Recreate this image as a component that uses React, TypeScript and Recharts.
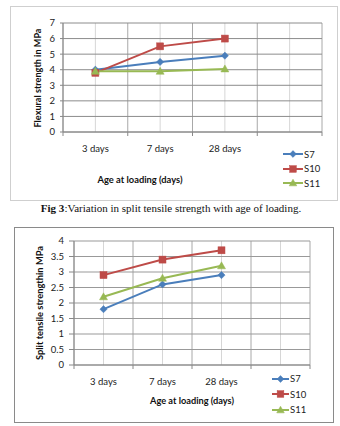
import React from 'react';
import { LineChart, Line, XAxis, YAxis, CartesianGrid, Legend, Label } from 'recharts';

// Categories on the age axis (the last slot is an empty category)
const ages = ['3 days', '7 days', '28 days', ''];
const seriesNames = ['S7', 'S10', 'S11'];

// Flexural strength (MPa)
const flexS7 = [4.0, 4.5, 4.9];
const flexS10 = [3.8, 5.5, 6.0];
const flexS11 = [3.9, 3.9, 4.05];
const flexTicks = [0, 1, 2, 3, 4, 5, 6, 7];

// Split tensile strength (MPa)
const splitS7 = [1.8, 2.6, 2.9];
const splitS10 = [2.9, 3.4, 3.7];
const splitS11 = [2.2, 2.8, 3.2];
const splitTicks = [0, 0.5, 1, 1.5, 2, 2.5, 3, 3.5, 4];

const COLORS: Record<string, string> = { S7: '#4A7EBB', S10: '#BE4B48', S11: '#98B954' };
const SHAPES: Record<string, string> = { S7: 'diamond', S10: 'square', S11: 'triangle' };
const FONT = 'Lato, "Liberation Sans", sans-serif';

function buildRows(s7: number[], s10: number[], s11: number[]) {
  return ages.map((age, i) => ({
    age,
    S7: s7[i] ?? null,
    S10: s10[i] ?? null,
    S11: s11[i] ?? null,
  }));
}

const flexRows = buildRows(flexS7, flexS10, flexS11);
const splitRows = buildRows(splitS7, splitS10, splitS11);

function markerShape(shape: string, cx: number, cy: number, color: string, s = 1) {
  if (shape === 'diamond') {
    const r = 3.6 * s;
    return <polygon points={`${cx},${cy - r} ${cx + r},${cy} ${cx},${cy + r} ${cx - r},${cy}`} fill={color} stroke={color} strokeWidth={0.5} />;
  }
  if (shape === 'square') {
    const h = 3.5 * s;
    return <rect x={cx - h} y={cy - h} width={2 * h} height={2 * h} fill={color} stroke={color} strokeWidth={0.5} />;
  }
  const r = 4 * s;
  return <polygon points={`${cx},${cy - r} ${cx + r},${cy + r * 0.75} ${cx - r},${cy + r * 0.75}`} fill={color} stroke={color} strokeWidth={0.5} />;
}

const makeDot = (name: string) => (props: any) => {
  const { cx, cy, index, value } = props;
  if (cx == null || cy == null || value == null) return <g key={`${name}-${index}`} />;
  return <g key={`${name}-${index}`}>{markerShape(SHAPES[name], cx, cy, COLORS[name])}</g>;
};

const makeTick = (band: number, labelDy: number) => (props: any) => {
  const { x, y, payload, index } = props;
  const isLast = index === ages.length - 1;
  return (
    <g>
      <line x1={x - band / 2} y1={y} x2={x - band / 2} y2={y + 4} stroke="#888" />
      {isLast && <line x1={x + band / 2} y1={y} x2={x + band / 2} y2={y + 4} stroke="#888" />}
      <text x={x} y={y + labelDy} textAnchor="middle" dominantBaseline="central" fontFamily={FONT} fontSize={9.5} fill="#222">
        {payload.value}
      </text>
    </g>
  );
};

const AxisTitle = ({ x, y, text, rotate, length }: { x: number; y: number; text: string; rotate?: boolean; length: number }) => (
  <text
    x={x}
    y={y}
    transform={rotate ? `rotate(-90 ${x} ${y})` : undefined}
    textAnchor="middle"
    dominantBaseline="central"
    fontFamily={FONT}
    fontWeight={700}
    fontSize={10}
    fill="#111"
    textLength={length}
    lengthAdjust="spacingAndGlyphs"
  >
    {text}
  </text>
);

const makeLegend = (rowGap: number, lineW: number) => () => (
  <div style={{ fontFamily: FONT, fontSize: 9.5, color: '#222' }}>
    {seriesNames.map((n) => (
      <div key={n} style={{ display: 'flex', alignItems: 'center', height: rowGap }}>
        <svg width={lineW} height={10} style={{ display: 'block' }}>
          <line x1={0} y1={5} x2={lineW} y2={5} stroke={COLORS[n]} strokeWidth={2} />
          {markerShape(SHAPES[n], lineW / 2, 5, COLORS[n], 0.95)}
        </svg>
        <span style={{ marginLeft: 1 }}>{n}</span>
      </div>
    ))}
  </div>
);

const centerLines = (n: number) => ({ offset }: any) =>
  Array.from({ length: n }, (_, i) => offset.left + ((i + 0.5) * offset.width) / n);
const boundaryLines = (n: number) => ({ offset }: any) =>
  Array.from({ length: n + 1 }, (_, i) => offset.left + (i * offset.width) / n);

interface PanelProps {
  rows: any[];
  width: number;
  height: number;
  margin: { top: number; right: number; bottom: number; left: number };
  yWidth: number;
  yTicks: number[];
  yMax: number;
  yTickSize: number;
  yTickMargin: number;
  plotWidth: number;
  labelDy: number;
  yTitle: { x: number; y: number; text: string; length: number };
  xTitle: { x: number; y: number; text: string; length: number };
  legend: { left: number; top: number; rowGap: number; lineW: number };
  hGrid: string;
}

function Panel(p: PanelProps) {
  return (
    <LineChart width={p.width} height={p.height} data={p.rows} margin={p.margin}>
      <CartesianGrid horizontal={false} stroke="#d6d6d6" verticalCoordinatesGenerator={centerLines(ages.length)} />
      <CartesianGrid horizontal={false} stroke="#a8a8a8" verticalCoordinatesGenerator={boundaryLines(ages.length)} />
      <CartesianGrid vertical={false} stroke={p.hGrid} />
      <XAxis
        dataKey="age"
        scale="band"
        height={20}
        interval={0}
        tickLine={false}
        tickSize={0}
        tickMargin={0}
        axisLine={{ stroke: '#888' }}
        tick={makeTick(p.plotWidth / ages.length, p.labelDy)}
      >
        <Label content={() => <AxisTitle {...p.xTitle} />} />
      </XAxis>
      <YAxis
        width={p.yWidth}
        domain={[0, p.yMax]}
        ticks={p.yTicks}
        interval={0}
        tickSize={p.yTickSize}
        tickMargin={p.yTickMargin}
        axisLine={{ stroke: '#888' }}
        tickLine={{ stroke: '#888' }}
        tick={{ fontFamily: FONT, fontSize: 9.5, fill: '#222' }}
      >
        <Label content={() => <AxisTitle {...p.yTitle} rotate />} />
      </YAxis>
      <Legend
        layout="horizontal"
        verticalAlign="middle"
        align="center"
        content={makeLegend(p.legend.rowGap, p.legend.lineW)}
        wrapperStyle={{ left: p.legend.left, top: p.legend.top, width: 60, height: 'auto' }}
      />
      {seriesNames.map((n) => (
        <Line
          key={n}
          dataKey={n}
          stroke={COLORS[n]}
          strokeWidth={2}
          dot={makeDot(n)}
          activeDot={false}
          connectNulls={false}
          isAnimationActive={false}
        />
      ))}
    </LineChart>
  );
}

export default function App() {
  return (
    <div style={{ position: 'absolute', left: 0, top: 0, width: 340, height: 426, background: '#fff' }}>
      <div style={{ position: 'absolute', left: 10, top: 6, width: 326, height: 193, border: '1px solid #cfcfcf' }} />
      <div style={{ position: 'absolute', left: 14, top: 227, width: 318, height: 194, border: '1px solid #8a8a8a' }} />

      <div style={{ position: 'absolute', left: 0, top: 0 }}>
        <Panel
          rows={flexRows}
          width={340}
          height={200}
          margin={{ top: 23, right: 18, left: 13, bottom: 48 }}
          yWidth={50}
          yTicks={flexTicks}
          yMax={7}
          yTickSize={3}
          yTickMargin={5}
          plotWidth={259}
          labelDy={16}
          yTitle={{ x: 37, y: 78, text: 'Flexural strength in MPa', length: 99 }}
          xTitle={{ x: 140, y: 179, text: 'Age at loading  (days)', length: 85 }}
          legend={{ left: 283, top: 147, rowGap: 14.5, lineW: 20 }}
          hGrid="#8c8c8c"
        />
      </div>

      <div
        style={{
          position: 'absolute',
          left: 0,
          top: 202,
          width: 342,
          textAlign: 'center',
          fontFamily: '"Liberation Serif", "Times New Roman", serif',
          fontSize: 11,
          lineHeight: '13px',
          color: '#111',
        }}
      >
        <b>Fig 3</b>:Variation in split tensile strength with age of loading.
      </div>

      <div style={{ position: 'absolute', left: 0, top: 200 }}>
        <Panel
          rows={splitRows}
          width={340}
          height={226}
          margin={{ top: 41, right: 30, left: 14, bottom: 41 }}
          yWidth={60}
          yTicks={splitTicks}
          yMax={4}
          yTickSize={5}
          yTickMargin={5}
          plotWidth={236}
          labelDy={16}
          yTitle={{ x: 39, y: 103, text: 'Split tensile strengthin MPa', length: 114 }}
          xTitle={{ x: 192, y: 200, text: 'Age at loading  (days)', length: 84 }}
          legend={{ left: 272, top: 171, rowGap: 15.5, lineW: 17 }}
          hGrid="#999999"
        />
      </div>
    </div>
  );
}
